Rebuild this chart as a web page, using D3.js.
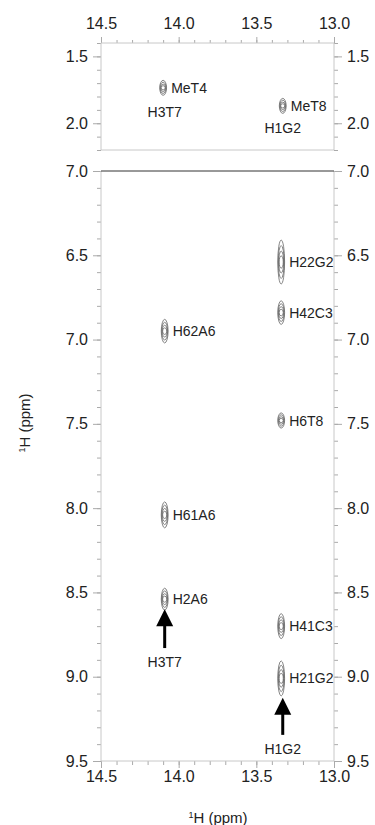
<!DOCTYPE html>
<html><head><meta charset="utf-8">
<script src="https://cdn.jsdelivr.net/npm/d3@7"></script>
<style>
body{margin:0;background:#fff}
svg{display:block;font-family:"Liberation Sans",Arial,sans-serif}
</style>
</head><body>
<svg id="chart" width="375" height="825"></svg>
<script>
// axis ticks
var xTicks = [14.5, 14.0, 13.5, 13.0];
var topTicks = [1.5, 2.0];
var botTicks = [6.0, 6.5, 7.0, 7.5, 8.0, 8.5, 9.0, 9.5];
var botTickLabels = ["7.0", "6.5", "7.0", "7.5", "8.0", "8.5", "9.0", "9.5"];

// methyl region peaks (upper panel)
var topNames = ["MeT4", "MeT8"];
var topShiftX = [14.10, 13.33];
var topShiftY = [1.735, 1.87];
var topWidthY = [0.056, 0.056];

// amino / aromatic region peaks (lower panel)
var botNames = ["H22G2", "H42C3", "H62A6", "H6T8", "H61A6", "H2A6", "H41C3", "H21G2"];
var botShiftX = [13.34, 13.34, 14.09, 13.34, 14.09, 14.09, 13.34, 13.34];
var botShiftY = [6.54, 6.84, 6.95, 7.48, 8.04, 8.54, 8.70, 9.01];
var botWidthY = [0.13, 0.07, 0.07, 0.045, 0.077, 0.065, 0.074, 0.104];

// imino protons
var imino = ["H3T7", "H1G2"];
var iminoX = [14.09, 13.33];
var iminoTopY = [1.915, 2.035];
var arrowTip = [8.60, 9.125];
var arrowEnd = [8.83, 9.345];
var arrowLabelY = [8.915, 9.43];

var widthX = 0.022;

var svg = d3.select("#chart");
var x = d3.scaleLinear().domain([14.5, 13.0]).range([101, 334]);
var yTop = d3.scaleLinear().domain([1.4, 2.2]).range([43, 150]);
var yBot = d3.scaleLinear().domain([6.0, 9.5]).range([171, 761]);

function minor(lo, hi) {
	return d3.range(Math.round(lo * 10), Math.round(hi * 10) + 1).map(function(d){ return d / 10; });
}

function styleAxis(g) {
	g.select(".domain").remove();
	g.selectAll(".tick line").attr("stroke", "#aaa");
	g.selectAll(".tick text").attr("fill", "#222").style("font-size", "16px");
}

function frame(y0, y1, topColor) {
	var g = svg.append("g");
	g.append("line").attr("x1", x(14.5)).attr("x2", x(14.5)).attr("y1", y0).attr("y2", y1).attr("stroke", "#c8c8c8");
	g.append("line").attr("x1", x(13.0)).attr("x2", x(13.0)).attr("y1", y0).attr("y2", y1).attr("stroke", "#c8c8c8");
	g.append("line").attr("x1", x(14.5)).attr("x2", x(13.0)).attr("y1", y1).attr("y2", y1).attr("stroke", "#c8c8c8");
	g.append("line").attr("x1", x(14.5)).attr("x2", x(13.0)).attr("y1", y0).attr("y2", y0).attr("stroke", topColor);
}

// upper panel axes
svg.append("g").attr("transform", "translate(0," + yTop.range()[0] + ")")
	.call(d3.axisTop(x).tickValues(minor(13.0, 14.5)).tickSize(3).tickFormat("")).call(styleAxis);
svg.append("g").attr("transform", "translate(0," + yTop.range()[0] + ")")
	.call(d3.axisTop(x).tickValues(xTicks).tickSize(6).tickPadding(8).tickFormat(d3.format(".1f"))).call(styleAxis);
[["L", 101], ["R", 334]].forEach(function(s) {
	var ax = s[0] == "L" ? d3.axisLeft : d3.axisRight;
	svg.append("g").attr("transform", "translate(" + s[1] + ",0)")
		.call(ax(yTop).tickValues(minor(1.4, 2.2)).tickSize(4).tickFormat("")).call(styleAxis);
	svg.append("g").attr("transform", "translate(" + s[1] + ",0)")
		.call(ax(yTop).tickValues(topTicks).tickSize(8).tickPadding(5).tickFormat(d3.format(".1f"))).call(styleAxis);
});
frame(yTop.range()[0], yTop.range()[1], "#c8c8c8");

// lower panel axes
svg.append("g").attr("transform", "translate(0," + yBot.range()[1] + ")")
	.call(d3.axisBottom(x).tickValues(minor(13.0, 14.5)).tickSize(4).tickFormat("")).call(styleAxis);
svg.append("g").attr("transform", "translate(0," + yBot.range()[1] + ")")
	.call(d3.axisBottom(x).tickValues(xTicks).tickSize(7).tickPadding(3).tickFormat(d3.format(".1f"))).call(styleAxis);
[["L", 101], ["R", 334]].forEach(function(s) {
	var ax = s[0] == "L" ? d3.axisLeft : d3.axisRight;
	svg.append("g").attr("transform", "translate(" + s[1] + ",0)")
		.call(ax(yBot).tickValues(minor(6.0, 9.5)).tickSize(4).tickFormat("")).call(styleAxis);
	svg.append("g").attr("transform", "translate(" + s[1] + ",0)")
		.call(ax(yBot).tickValues(botTicks).tickSize(8).tickPadding(5)
			.tickFormat(function(d, i){ return botTickLabels[i]; })).call(styleAxis);
});
frame(yBot.range()[0], yBot.range()[1], "#333");

// contour peaks
function peaks(names, px, py, wy, y) {
	var g = svg.append("g");
	names.forEach(function(n, i) {
		var cx = x(px[i]), cy = y(py[i]);
		var rx = Math.abs(x(px[i] + widthX) - cx), ry = Math.abs(y(py[i] + wy[i]) - cy);
		[1, 0.75, 0.5, 0.28].forEach(function(k) {
			g.append("ellipse").attr("cx", cx).attr("cy", cy)
				.attr("rx", rx * (0.45 + 0.55 * k)).attr("ry", ry * k)
				.attr("fill", "none").attr("stroke", "#666").attr("stroke-width", 0.8);
		});
		g.append("text").attr("x", cx + 8).attr("y", cy)
			.attr("dy", "0.36em").style("font-size", "14px").attr("fill", "#222").text(n);
	});
}
peaks(topNames, topShiftX, topShiftY, topWidthY, yTop);
peaks(botNames, botShiftX, botShiftY, botWidthY, yBot);

// imino labels in the upper panel
svg.append("g").selectAll("text").data(imino).join("text")
	.attr("x", function(d, i){ return x(iminoX[i]); })
	.attr("y", function(d, i){ return yTop(iminoTopY[i]); })
	.attr("dy", "0.36em").attr("text-anchor", "middle")
	.style("font-size", "14px").attr("fill", "#222").text(function(d){ return d; });

// arrows in the lower panel
var ga = svg.append("g");
imino.forEach(function(n, i) {
	var ax = x(iminoX[i]), t = yBot(arrowTip[i]), e = yBot(arrowEnd[i]);
	ga.append("line").attr("x1", ax).attr("x2", ax).attr("y1", t + 10).attr("y2", e)
		.attr("stroke", "#000").attr("stroke-width", 3);
	ga.append("path").attr("d", "M" + ax + "," + t + "L" + (ax - 8.5) + "," + (t + 17) + "L" + (ax + 8.5) + "," + (t + 17) + "Z")
		.attr("fill", "#000");
	ga.append("text").attr("x", ax).attr("y", yBot(arrowLabelY[i])).attr("dy", "0.36em")
		.attr("text-anchor", "middle").style("font-size", "14px").attr("fill", "#222").text(n);
});

// axis titles
var xt = svg.append("text").attr("x", 218).attr("y", 823).attr("text-anchor", "middle")
	.style("font-size", "15px").attr("fill", "#222");
xt.append("tspan").attr("dy", "-5").style("font-size", "9px").text("1");
xt.append("tspan").attr("dy", "5").text("H (ppm)");

var yt = svg.append("text").attr("transform", "translate(30,423) rotate(-90)").attr("text-anchor", "middle")
	.style("font-size", "15px").attr("fill", "#222");
yt.append("tspan").attr("dy", "-5").style("font-size", "9px").text("1");
yt.append("tspan").attr("dy", "5").text("H (ppm)");
</script>
</body></html>
